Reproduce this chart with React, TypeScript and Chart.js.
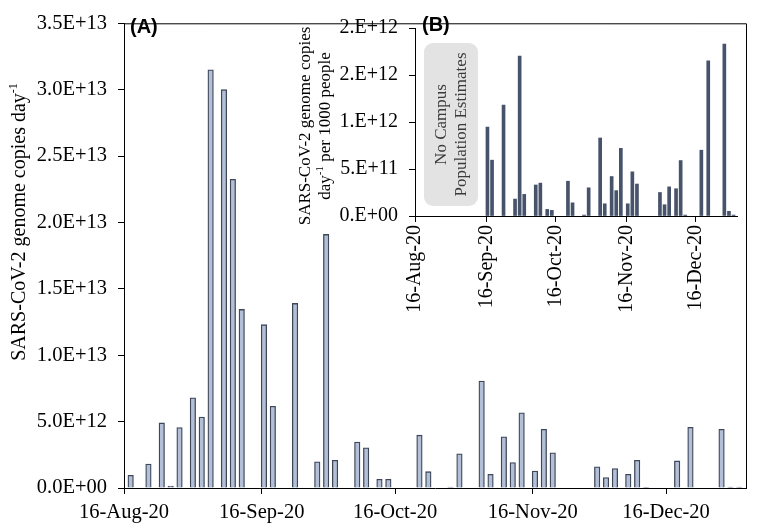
import React, { useEffect, useRef } from "react";
import { Chart, registerables } from "chart.js";

Chart.register(...registerables);

// ---------- DATA ----------
const startDate = "2020-08-16";
const endDate = "2021-01-03";

const sampleDates = [
  "2020-08-17", "2020-08-21", "2020-08-24", "2020-08-26", "2020-08-28", "2020-08-31",
  "2020-09-02", "2020-09-04", "2020-09-07", "2020-09-09", "2020-09-11", "2020-09-16",
  "2020-09-18", "2020-09-23", "2020-09-28", "2020-09-30", "2020-10-02", "2020-10-07",
  "2020-10-09", "2020-10-12", "2020-10-14", "2020-10-21", "2020-10-23", "2020-10-28",
  "2020-10-30", "2020-11-04", "2020-11-06", "2020-11-09", "2020-11-11", "2020-11-13",
  "2020-11-16", "2020-11-18", "2020-11-20", "2020-11-30", "2020-12-02", "2020-12-04",
  "2020-12-07", "2020-12-09", "2020-12-11", "2020-12-18", "2020-12-21", "2020-12-28",
  "2020-12-30", "2021-01-01",
];

// Panel A: genome copies per day (E+12)
const copiesPerDayE12 = [
  0.96, 1.8, 4.9, 0.15, 4.55, 6.8,
  5.35, 31.5, 30.0, 23.25, 13.45, 12.3,
  6.16, 13.9, 1.97, 19.1, 2.09, 3.46,
  3.02, 0.66, 0.66, 3.98, 1.23, 0.07,
  2.58, 8.05, 1.03, 3.86, 1.91, 5.67,
  1.28, 4.42, 2.65, 1.6, 0.79, 1.47,
  1.03, 2.09, 0.05, 2.04, 4.57, 4.42,
  0.06, 0.06,
];

// Panel B: genome copies per day per 1000 people (E+12), null = no campus population estimate
const copiesPer1000E12: (number | null)[] = [
  null, null, null, null, null, null,
  null, null, null, null, null, 0.946,
  0.594, 1.18, 0.18, 1.70, 0.23, 0.33,
  0.35, 0.07, 0.06, 0.37, 0.14, 0.01,
  0.30, 0.83, 0.13, 0.42, 0.27, 0.72,
  0.13, 0.47, 0.34, 0.25, 0.12, 0.31,
  0.29, 0.59, 0.01, 0.70, 1.65, 1.83,
  0.05, 0.01,
];

const xTickDates = ["2020-08-16", "2020-09-16", "2020-10-16", "2020-11-16", "2020-12-16"];
const xTickLabels = ["16-Aug-20", "16-Sep-20", "16-Oct-20", "16-Nov-20", "16-Dec-20"];

const mainYTickLabels = ["0.0E+00", "5.0E+12", "1.0E+13", "1.5E+13", "2.0E+13", "2.5E+13", "3.0E+13", "3.5E+13"];
const insetYTickLabels = ["0.E+00", "5.E+11", "1.E+12", "2.E+12", "2.E+12"];

// ---------- HELPERS ----------
const dayOf = (s: string) => {
  const [y, m, d] = s.split("-").map(Number);
  const [y0, m0, d0] = startDate.split("-").map(Number);
  return Math.round((Date.UTC(y, m - 1, d) - Date.UTC(y0, m0 - 1, d0)) / 86400000);
};

const SERIF = "'Liberation Serif', 'Times New Roman', serif";
const SANS = "'Liberation Sans', Arial, sans-serif";

type Part = { text: string; sup?: boolean };

function drawRotatedRich(
  ctx: CanvasRenderingContext2D,
  parts: Part[],
  cx: number,
  cy: number,
  size: number,
  color: string
) {
  ctx.save();
  ctx.translate(cx, cy);
  ctx.rotate(-Math.PI / 2);
  ctx.fillStyle = color;
  ctx.textBaseline = "alphabetic";
  ctx.textAlign = "left";
  let total = 0;
  const widths = parts.map((p) => {
    ctx.font = `${p.sup ? Math.round(size * 0.62) : size}px ${SERIF}`;
    const w = ctx.measureText(p.text).width;
    total += w;
    return w;
  });
  let x = -total / 2;
  const base = size * 0.33;
  parts.forEach((p, i) => {
    ctx.font = `${p.sup ? Math.round(size * 0.62) : size}px ${SERIF}`;
    ctx.fillText(p.text, x, p.sup ? base - size * 0.42 : base);
    x += widths[i];
  });
  ctx.restore();
}

const xMax = dayOf(endDate);
const tickDays = xTickDates.map(dayOf);

export default function App() {
  const mainRef = useRef<HTMLCanvasElement>(null);
  const insetRef = useRef<HTMLCanvasElement>(null);

  useEffect(() => {
    const mainData = sampleDates.map((d, i) => ({ x: dayOf(d) + 0.5, y: copiesPerDayE12[i] * 1e12 }));
    const insetData = sampleDates
      .map((d, i) => ({ x: dayOf(d) + 0.5, y: copiesPer1000E12[i] }))
      .filter((p) => p.y !== null)
      .map((p) => ({ x: p.x, y: (p.y as number) * 1e12 }));

    const mainPlugin = {
      id: "mainDecor",
      afterDraw(chart: any) {
        const ctx = chart.ctx as CanvasRenderingContext2D;
        const a = chart.chartArea;
        ctx.save();
        ctx.strokeStyle = "#000";
        ctx.lineWidth = 1;
        ctx.beginPath();
        ctx.moveTo(a.left, a.top + 0.5);
        ctx.lineTo(a.right + 0.5, a.top + 0.5);
        ctx.lineTo(a.right + 0.5, a.bottom);
        ctx.stroke();
        ctx.fillStyle = "#000";
        ctx.font = `bold 20px ${SANS}`;
        ctx.textBaseline = "alphabetic";
        ctx.textAlign = "left";
        ctx.fillText("(A)", 130, 33);
        ctx.restore();
        drawRotatedRich(
          ctx,
          [{ text: "SARS-CoV-2 genome copies day" }, { text: "-1", sup: true }],
          18.4,
          222,
          20,
          "#000"
        );
      },
    };

    const insetPlugin = {
      id: "insetDecor",
      beforeDatasetsDraw(chart: any) {
        const ctx = chart.ctx as CanvasRenderingContext2D;
        const ox = 280;
        ctx.save();
        ctx.fillStyle = "#e3e3e3";
        ctx.beginPath();
        (ctx as any).roundRect(424 - ox, 43, 54, 163, 9);
        ctx.fill();
        ctx.restore();
        drawRotatedRich(ctx, [{ text: "No Campus" }], 440.5 - ox, 124.5, 17, "#3a3a3a");
        drawRotatedRich(ctx, [{ text: "Population Estimates" }], 460.5 - ox, 124.5, 17, "#3a3a3a");
      },
      afterDraw(chart: any) {
        const ctx = chart.ctx as CanvasRenderingContext2D;
        const ox = 280;
        ctx.save();
        ctx.fillStyle = "#000";
        ctx.font = `bold 20px ${SANS}`;
        ctx.textBaseline = "alphabetic";
        ctx.textAlign = "left";
        ctx.fillText("(B)", 422 - ox, 31);
        ctx.restore();
        drawRotatedRich(ctx, [{ text: "SARS-CoV-2 genome copies" }], 304.5 - ox, 126, 17, "#000");
        drawRotatedRich(
          ctx,
          [{ text: "day" }, { text: "-1", sup: true }, { text: " per 1000 people" }],
          324.5 - ox,
          126,
          17,
          "#000"
        );
      },
    };

    const c1 = new Chart(mainRef.current as HTMLCanvasElement, {
      type: "bar",
      data: {
        datasets: [
          {
            data: mainData as any,
            backgroundColor: "#b3bfd7",
            borderColor: "#3d4758",
            borderWidth: 1.3,
            borderSkipped: "start",
            barThickness: 5.5,
          },
        ],
      },
      options: {
        responsive: false,
        animation: false,
        devicePixelRatio: 1,
        layout: { padding: { left: 0, top: 12, right: 13, bottom: 0 } },
        plugins: { legend: { display: false }, tooltip: { enabled: false } },
        scales: {
          x: {
            type: "linear",
            min: 0,
            max: xMax,
            offset: false,
            afterFit: (s: any) => {
              s.height = 39;
            },
            afterBuildTicks: (s: any) => {
              s.ticks = tickDays.map((v) => ({ value: v }));
            },
            ticks: {
              autoSkip: false,
              maxRotation: 0,
              minRotation: 0,
              padding: 6,
              color: "#000",
              font: { family: SERIF, size: 20.5 },
              callback: (v: any) => xTickLabels[tickDays.indexOf(Number(v))] ?? "",
            },
            grid: { offset: false, drawOnChartArea: false, drawTicks: true, tickLength: 6, tickColor: "#000" },
            border: { color: "#000", width: 1 },
          },
          y: {
            type: "linear",
            min: 0,
            max: 3.5e13,
            afterFit: (s: any) => {
              s.width = 124;
            },
            ticks: {
              stepSize: 5e12,
              padding: 11,
              color: "#000",
              font: { family: SERIF, size: 20.5 },
              callback: (_v: any, i: number) => mainYTickLabels[i],
            },
            grid: { offset: false, drawOnChartArea: false, drawTicks: true, tickLength: 6, tickColor: "#000" },
            border: { color: "#000", width: 1 },
          },
        },
      },
      plugins: [mainPlugin],
    });

    const c2 = new Chart(insetRef.current as HTMLCanvasElement, {
      type: "bar",
      data: {
        datasets: [
          {
            data: insetData as any,
            backgroundColor: "#46536a",
            borderWidth: 0,
            barThickness: 3,
          },
        ],
      },
      options: {
        responsive: false,
        animation: false,
        devicePixelRatio: 1,
        layout: { padding: { left: 0, top: 28, right: 22, bottom: 0 } },
        plugins: { legend: { display: false }, tooltip: { enabled: false } },
        scales: {
          x: {
            type: "linear",
            min: 0,
            max: xMax,
            offset: false,
            afterFit: (s: any) => {
              s.height = 345 - 216;
            },
            afterBuildTicks: (s: any) => {
              s.ticks = tickDays.map((v) => ({ value: v }));
            },
            ticks: {
              autoSkip: false,
              maxRotation: 90,
              minRotation: 90,
              padding: 3,
              color: "#000",
              font: { family: SERIF, size: 20 },
              callback: (v: any) => xTickLabels[tickDays.indexOf(Number(v))] ?? "",
            },
            grid: { offset: false, drawOnChartArea: false, drawTicks: true, tickLength: 6, tickColor: "#000" },
            border: { color: "#000", width: 1 },
          },
          y: {
            type: "linear",
            min: 0,
            max: 2e12,
            afterFit: (s: any) => {
              s.width = 135;
            },
            ticks: {
              stepSize: 5e11,
              padding: 11,
              color: "#000",
              font: { family: SERIF, size: 20 },
              callback: (_v: any, i: number) => insetYTickLabels[i],
            },
            grid: { offset: false, drawOnChartArea: false, drawTicks: true, tickLength: 6, tickColor: "#000" },
            border: { color: "#000", width: 1 },
          },
        },
      },
      plugins: [insetPlugin],
    });

    return () => {
      c1.destroy();
      c2.destroy();
    };
  }, []);

  return (
    <div style={{ position: "fixed", left: 0, top: 0, width: 759, height: 527, background: "#fff" }}>
      <canvas
        ref={mainRef}
        width={759}
        height={527}
        style={{ position: "absolute", left: 0, top: 0, width: 759, height: 527 }}
      />
      <canvas
        ref={insetRef}
        width={479}
        height={345}
        style={{ position: "absolute", left: 280, top: 0, width: 479, height: 345 }}
      />
    </div>
  );
}
